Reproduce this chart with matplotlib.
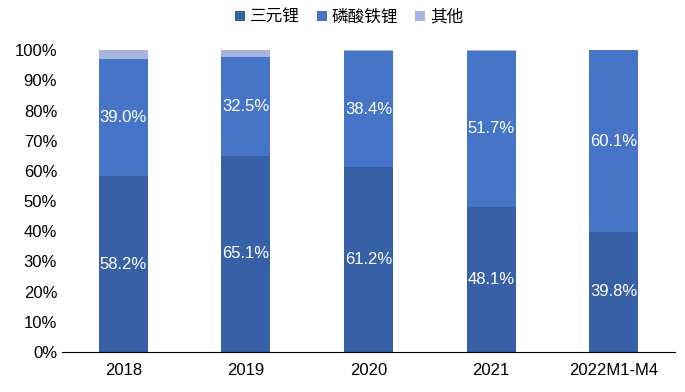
import matplotlib
matplotlib.use('Agg')
import matplotlib.pyplot as plt
from matplotlib.ticker import PercentFormatter

plt.rcParams['font.family'] = ['Liberation Sans', 'Noto Sans CJK SC', 'DejaVu Sans']

categories = ['2018', '2019', '2020', '2021', '2022M1-M4']
ternary = [58.2, 65.1, 61.2, 48.1, 39.8]
lfp = [39.0, 32.5, 38.4, 51.7, 60.1]
other = [2.8, 2.4, 0.4, 0.2, 0.1]

names = ['三元锂', '磷酸铁锂', '其他']
colors = ['#3860a6', '#4674c6', '#a7b5de']

fig = plt.figure(figsize=(6.85, 3.92), dpi=100)
ax = fig.add_axes([0.0905, 0.102, 0.895, 0.77])

x = range(len(categories))
w = 0.4
b1 = ax.bar(x, ternary, w, color=colors[0], label=names[0])
b2 = ax.bar(x, lfp, w, bottom=ternary, color=colors[1], label=names[1])
bottom3 = [a + b for a, b in zip(ternary, lfp)]
b3 = ax.bar(x, other, w, bottom=bottom3, color=colors[2], label=names[2])

for i in x:
    ax.text(i, ternary[i] / 2, f'{ternary[i]:.1f}%', ha='center', va='center',
            color='white', fontsize=12)
    ax.text(i, ternary[i] + lfp[i] / 2, f'{lfp[i]:.1f}%', ha='center', va='center',
            color='white', fontsize=12)

ax.set_ylim(0, 100)
ax.set_xlim(-0.5, 4.5)
ax.set_yticks(range(0, 101, 10))
ax.yaxis.set_major_formatter(PercentFormatter(decimals=0))
ax.set_xticks(list(x))
ax.set_xticklabels(categories)
ax.tick_params(axis='both', length=0, labelsize=12)
ax.tick_params(axis='x', pad=8)
for s in ['left', 'right', 'top']:
    ax.spines[s].set_visible(False)
ax.spines['bottom'].set_color('black')

fig.legend(handles=[b1, b2, b3], loc='upper center', bbox_to_anchor=(0.51, 1.015),
           ncol=3, frameon=False, fontsize=12, handlelength=0.6, handleheight=0.6,
           columnspacing=1.0, handletextpad=0.3)

fig.savefig('out.png', dpi=100)
